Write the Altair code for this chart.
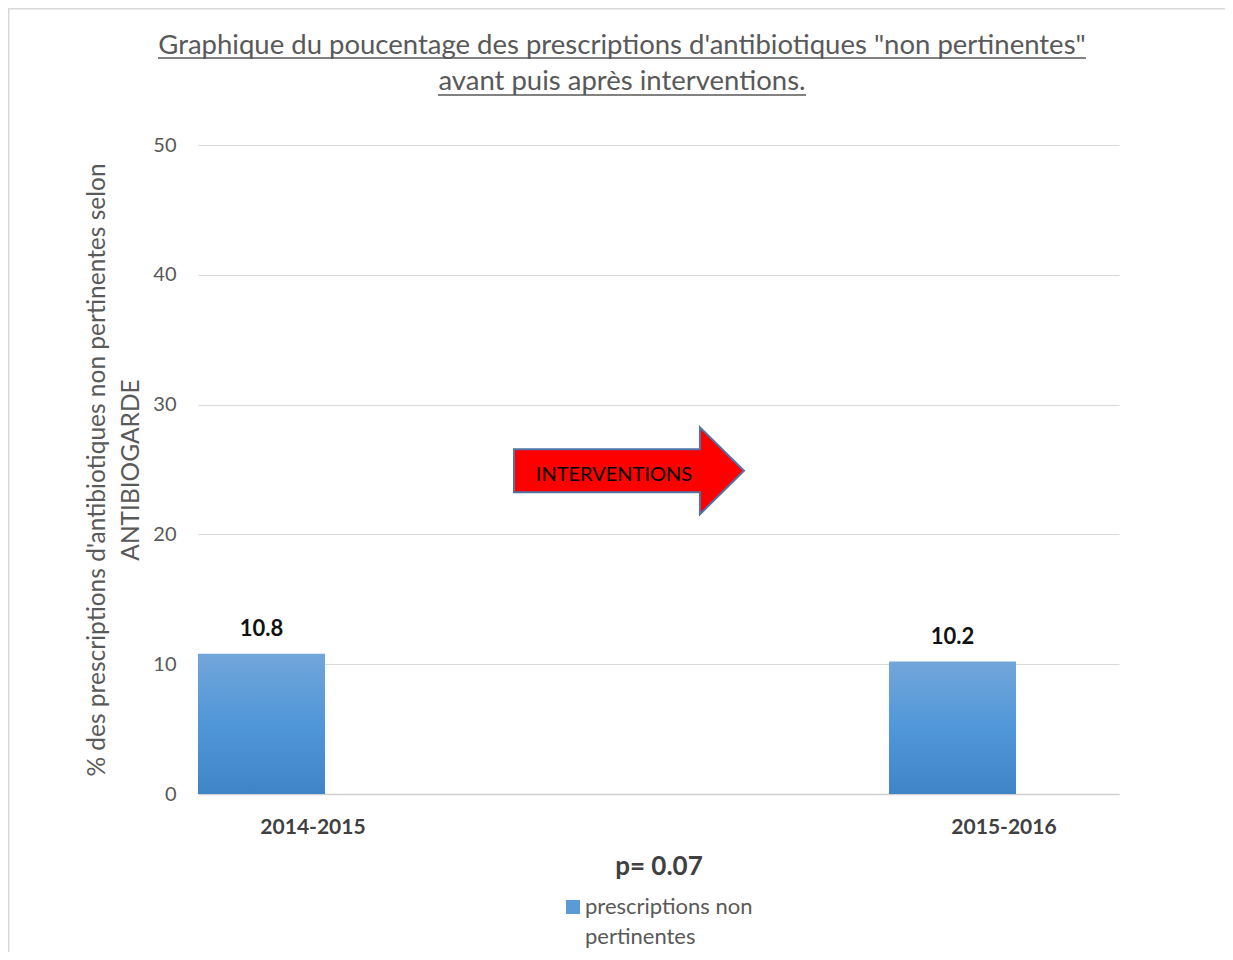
import altair as alt
import pandas as pd

periodes = ["2014-2015", "2015-2016"]
valeurs = [10.8, 10.2]
serie = ["prescriptions non pertinentes", "prescriptions non pertinentes"]

titre = ["Graphique du poucentage des prescriptions d'antibiotiques \"non pertinentes\"",
         "avant puis après interventions."]
titre_y = ["% des prescriptions d'antibiotiques non pertinentes selon", "ANTIBIOGARDE"]
titre_x = "p= 0.07"
legende_texte = ["prescriptions non", "pertinentes"]
fleche_texte = ["INTERVENTIONS"]
fleche_y = [24.9]
texte_y = [24.6]

df = pd.DataFrame({"periode": periodes, "valeur": valeurs, "serie": serie})
one = pd.DataFrame({"k": [0]})

FONT = "Lato"
W, H = 921, 649
BAR_SHIFT = -51.5  # bars sit left of their category label, as in the original

xscale = alt.Scale(domain=periodes, paddingInner=0.8162, paddingOuter=0.0745)
yscale = alt.Scale(domain=[0, 50])

x_enc = alt.X("periode:N", scale=xscale, sort=periodes,
              axis=alt.Axis(title=titre_x, labelAngle=0,
                            labelFont=FONT, labelFontSize=21, labelFontWeight="bold",
                            labelColor="#404040", labelPadding=22, ticks=False,
                            domainColor="#d0d0d0", domainWidth=1.5,
                            titleFont=FONT, titleFontSize=26, titleFontWeight="bold",
                            titleColor="#404040", titlePadding=16))
y_enc = alt.Y("valeur:Q", scale=yscale,
              axis=alt.Axis(title=titre_y, values=[0, 10, 20, 30, 40, 50], domain=False,
                            ticks=False, labelFont=FONT, labelFontSize=20, labelColor="#595959",
                            labelPadding=22, gridColor="#d9d9d9", gridWidth=1.2,
                            titleFont=FONT, titleFontSize=24.5, titleFontWeight="normal",
                            titleColor="#595959", titlePadding=9, titleLineHeight=34))

gradient = alt.LinearGradient(gradient="linear", x1=0, y1=0, x2=0, y2=1,
                              stops=[alt.GradientStop(color="#72a6da", offset=0),
                                     alt.GradientStop(color="#5097d9", offset=0.5),
                                     alt.GradientStop(color="#3f84c6", offset=1)])

bars = alt.Chart(df).mark_bar(color=gradient, xOffset=BAR_SHIFT).encode(x=x_enc, y=y_enc)

labels = alt.Chart(df).mark_text(font=FONT, fontSize=22, fontWeight="bold", color="#111111",
                                 baseline="bottom", dy=-13, xOffset=BAR_SHIFT).encode(
    x=alt.X("periode:N", scale=xscale, sort=periodes, bandPosition=0.5),
    y=alt.Y("valeur:Q", scale=yscale),
    text=alt.Text("valeur:Q", format=".1f"))

arrow_df = pd.DataFrame({"y": fleche_y})
arrow_path = "M-1,-0.187 L0.617,-0.187 L0.617,-0.378 L1,0 L0.617,0.378 L0.617,0.187 L-1,0.187 Z"
arrow = alt.Chart(arrow_df).mark_point(shape=arrow_path, filled=True, fill="#ff0000",
                                        stroke="#4f75a8", strokeWidth=2, opacity=1,
                                        size=230 * 230).encode(
    x=alt.value(431), y=alt.Y("y:Q", scale=yscale))

arrow_txt_df = pd.DataFrame({"y": texte_y, "t": fleche_texte})
arrow_txt = alt.Chart(arrow_txt_df).mark_text(font=FONT, fontSize=20, color="#000000").encode(
    x=alt.value(416), y=alt.Y("y:Q", scale=yscale), text="t:N")

# legend (drawn manually to get the two-line label spacing)
leg_sym = alt.Chart(df.iloc[:1]).mark_square(size=196, opacity=1).encode(
    x=alt.value(375), y=alt.value(762),
    color=alt.Color("serie:N", scale=alt.Scale(range=["#5b9bd5"]), legend=None))
leg_txt = alt.Chart(one).mark_text(font=FONT, fontSize=22, color="#595959", align="left",
                                   baseline="middle", lineHeight=29.5,
                                   text=legende_texte).encode(
    x=alt.value(387), y=alt.value(762))

# title with underlines, outer frame (decorations)
title_txt1 = alt.Chart(one).mark_text(font=FONT, fontSize=27.5, color="#595959",
                                      baseline="middle", text=titre[0]).encode(
    x=alt.value(424), y=alt.value(-99))
title_txt2 = alt.Chart(one).mark_text(font=FONT, fontSize=27.5, color="#595959",
                                      baseline="middle", text=titre[1]).encode(
    x=alt.value(424), y=alt.value(-63))
underline1 = alt.Chart(one).mark_rule(color="#595959", strokeWidth=1.3).encode(
    x=alt.value(-40), x2=alt.value(888), y=alt.value(-87))
underline2 = alt.Chart(one).mark_rule(color="#595959", strokeWidth=1.3).encode(
    x=alt.value(240), x2=alt.value(608), y=alt.value(-50))
frame_top = alt.Chart(one).mark_rule(color="#d9d9d9", strokeWidth=2).encode(
    x=alt.value(-190), x2=alt.value(1030), y=alt.value(-136.5))
frame_left = alt.Chart(one).mark_rule(color="#d9d9d9", strokeWidth=2).encode(
    x=alt.value(-189.5), y=alt.value(-137), y2=alt.value(815))

chart = alt.layer(frame_top, frame_left, bars, labels, arrow, arrow_txt, leg_sym, leg_txt,
                  title_txt1, title_txt2, underline1, underline2).properties(
    width=W, height=H,
    autosize=alt.AutoSizeParams(type="none"),
    padding={"left": 190, "top": 137, "right": 106, "bottom": 158},
).configure_view(stroke=None)

chart.save("out.html", embed_options={"renderer": "svg", "actions": False})
